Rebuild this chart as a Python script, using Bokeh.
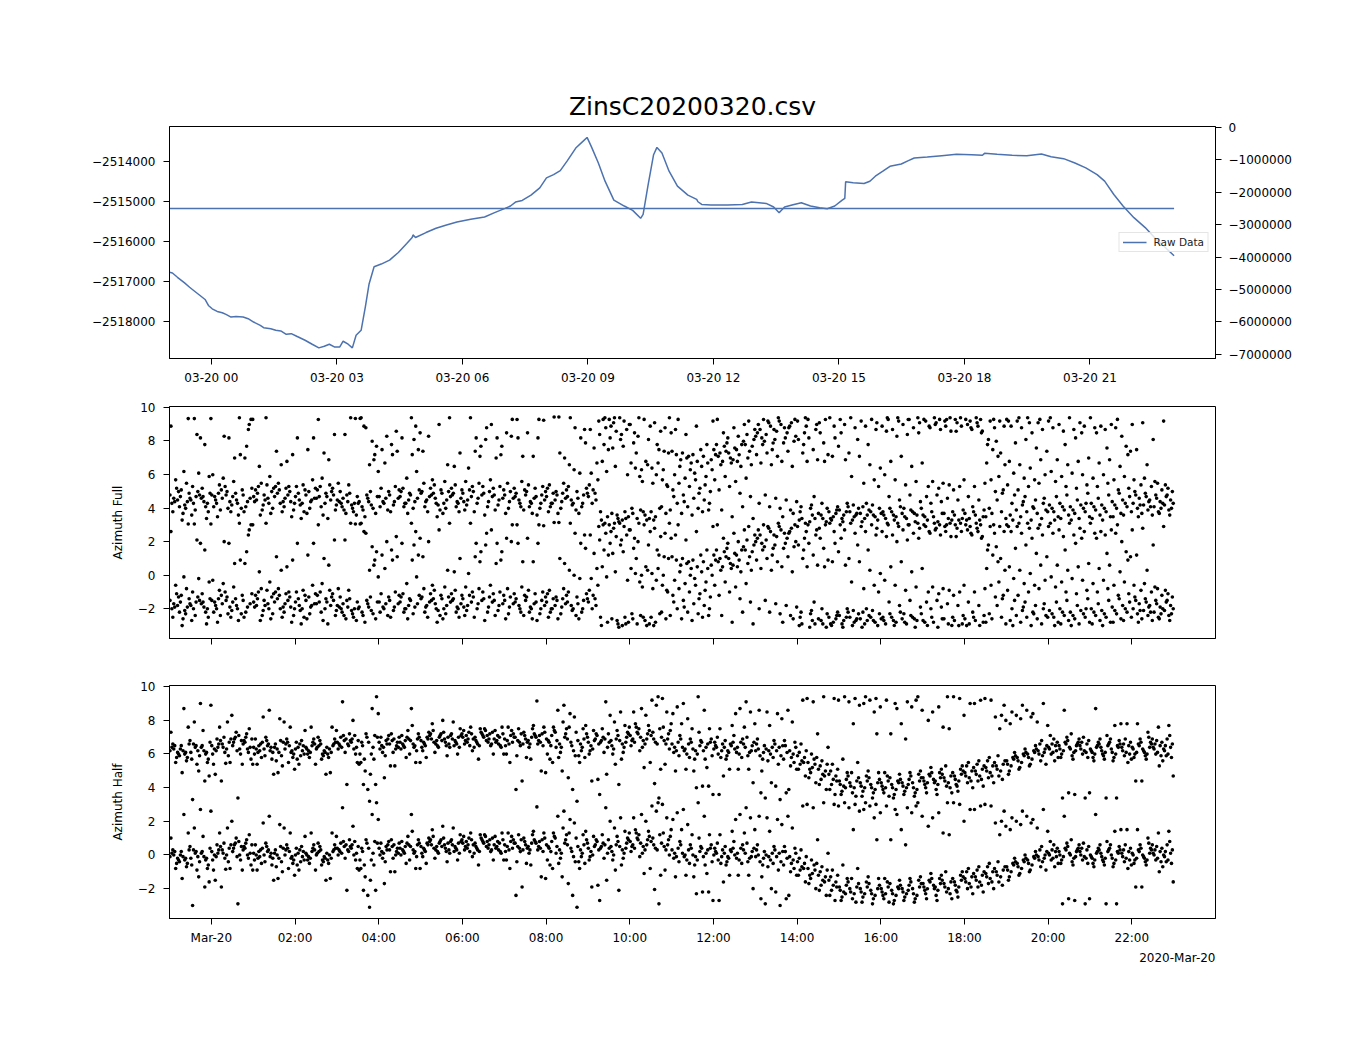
import math
import numpy as np
from bokeh.plotting import figure
from bokeh.layouts import column
from bokeh.models import Range1d, LinearAxis, FixedTicker, Title
from bokeh.embed import file_html
from bokeh.resources import INLINE

FONT = "DejaVu Sans"
TITLE = "ZinsC20200320.csv"
LINE_COLOR = "#4c72b0"

# ---- top panel: raw data trace (hours relative to 2020-03-20 00:00) ----
raw_hours = [-1.0, -0.93, -0.81, -0.64, -0.52, -0.40, -0.27, -0.15, -0.07, 0.02, 0.14, 0.26, 0.35, 0.47,
             0.59, 0.76, 0.88, 1.01, 1.17, 1.25, 1.42, 1.54, 1.66, 1.79, 1.91, 2.04, 2.24, 2.41, 2.57,
             2.70, 2.82, 2.94, 3.07, 3.15, 3.27, 3.37, 3.46, 3.58, 3.68, 3.77, 3.89, 4.06, 4.26, 4.47,
             4.67, 4.80, 4.82, 4.88, 5.13, 5.37, 5.62, 5.87, 6.20, 6.53, 6.77, 7.02, 7.15, 7.27, 7.43,
             7.64, 7.85, 8.01, 8.18, 8.34, 8.51, 8.71, 8.88, 8.98, 9.08, 9.25, 9.41, 9.62, 9.87, 10.07,
             10.26, 10.32, 10.44, 10.57, 10.65, 10.77, 10.94, 11.14, 11.39, 11.60, 11.63, 11.72, 11.94,
             12.34, 12.69, 12.91, 13.09, 13.26, 13.44, 13.57, 13.70, 13.88, 14.10, 14.32, 14.54, 14.72,
             14.90, 15.07, 15.14, 15.16, 15.34, 15.60, 15.74, 15.87, 16.05, 16.22, 16.49, 16.66, 16.80,
             17.11, 17.46, 17.81, 18.17, 18.43, 18.48, 18.78, 19.14, 19.49, 19.84, 20.07, 20.37, 20.64,
             20.90, 21.17, 21.35, 21.57, 21.79, 22.05, 22.32, 22.58, 22.80, 23.01]
raw_values = [-2516775, -2516792, -2516900, -2517042, -2517150, -2517250, -2517358, -2517458, -2517608,
              -2517692, -2517758, -2517792, -2517833, -2517900, -2517883, -2517900, -2517942, -2518025,
              -2518108, -2518167, -2518192, -2518233, -2518250, -2518333, -2518317, -2518383, -2518483,
              -2518583, -2518675, -2518633, -2518583, -2518650, -2518650, -2518508, -2518583, -2518675,
              -2518358, -2518233, -2517650, -2517067, -2516633, -2516567, -2516467, -2516275, -2516050,
              -2515900, -2515833, -2515900, -2515775, -2515667, -2515583, -2515508, -2515442, -2515383,
              -2515275, -2515167, -2515108, -2515008, -2514967, -2514833, -2514650, -2514400, -2514317,
              -2514217, -2513967, -2513650, -2513483, -2513383, -2513608, -2514025, -2514483, -2514958,
              -2515108, -2515217, -2515417, -2515317, -2514567, -2513817, -2513633, -2513775, -2514233,
              -2514608, -2514833, -2514942, -2515000, -2515067, -2515083, -2515083, -2515067, -2515008,
              -2515025, -2515042, -2515133, -2515275, -2515133, -2515083, -2515025, -2515108, -2515150,
              -2515175, -2515108, -2514967, -2514917, -2514500, -2514525, -2514542, -2514483, -2514358,
              -2514233, -2514108, -2514050, -2513967, -2513900, -2513875, -2513842, -2513808, -2513817,
              -2513833, -2513783, -2513808, -2513833, -2513842, -2513800, -2513867, -2513917, -2514025,
              -2514150, -2514317, -2514483, -2514817, -2515108, -2515400, -2515650, -2515942, -2516150,
              -2516358]
mean_value = -2515170

# ---- scatter panels: values in 15-minute bins starting 2020-03-19 23:00 ----
BIN_START = -1.0
BIN_W = 0.25
azimuth_full_bins = [
    [-1.5, -1.9, -2.2, -1.7, -1.3, -2.5, -1.8, -2.0, -1.1, 2.6, -0.6],
    [-1.6, -2.1, -1.4, -2.6, -1.9, -1.2, -2.3, -1.7, -0.1, 3.05, -3.0, -0.8],
    [-1.8, -2.4, -1.5, -2.0, -1.3, -2.7, -1.6, 1.9, 3.05, -0.2, -1.0, 2.1],
    [-1.7, -2.2, -1.4, -1.9, -2.5, -1.1, -2.9, 3.05, 1.5, -0.4, -1.6, -2.0],
    [-1.5, -2.0, -1.2, -1.8, -2.4, -1.6, -0.9, -2.2, -1.4, -0.3, -2.8],
    [-1.7, -1.3, -2.1, -1.5, -2.5, -1.0, -1.9, 2.0, 1.9, -0.5, -2.3],
    [-1.6, -2.0, -1.2, -1.8, -2.3, -1.4, 0.9, 0.7, 3.1, -0.7, -2.7],
    [-1.5, -1.9, -1.1, -2.2, -1.7, -2.5, 2.4, 3.0, 1.4, 3.0, 0.7, 2.7],
    [-1.6, -1.0, -2.1, -1.4, -2.4, -1.8, -0.8, -1.2, -2.7, -1.9, 0.2],
    [-1.5, -2.0, -1.1, -1.7, -2.3, -0.9, -1.3, 3.1, -2.6, -1.8, -0.4],
    [-1.6, -1.2, -2.2, -0.8, -1.9, -1.4, -2.5, 1.1, 0.3, -1.0, -2.0],
    [-1.7, -1.3, -2.0, -1.0, -2.4, -1.5, 0.9, 0.5, -2.8, -1.1, -1.9],
    [-1.6, -2.1, -1.2, -1.8, -2.5, -1.4, -0.9, 1.9, -2.0, -1.0, -2.9],
    [-1.5, -1.9, -1.1, -2.3, -1.7, -1.3, 1.9, 1.2, -0.6, -2.6, -1.8],
    [-1.7, -2.2, -1.4, -1.0, -2.0, -1.6, 1.0, 3.0, -2.7, -1.2, -0.5],
    [-1.6, -1.3, -2.1, -1.8, -2.4, -0.9, 2.1, 0.6, -1.5, -2.9, -1.1],
    [-1.8, -2.2, -1.5, -2.0, -2.6, -1.3, 2.1, -1.9, -2.4, -0.8, -1.7],
    [-1.9, -2.3, -1.6, -2.1, -2.7, 3.1, 3.05, -1.4, -2.0, -0.9, -2.5],
    [-2.0, -2.4, -1.7, -2.2, -1.5, 3.1, 2.5, 3.05, -2.8, -1.9, 2.6],
    [-1.9, -2.3, -1.6, -2.1, -2.6, 0.3, 0.6, -0.1, 1.7, 1.4, -1.3, 0.9],
    [-1.6, -2.0, -1.3, -1.9, -2.4, 1.2, 2.0, -1.1, -1.7, -2.2, 0.4],
    [-1.5, -1.9, -1.2, -2.1, -1.7, 0.9, 1.1, 1.5, 2.3, -2.5, -1.0],
    [-1.6, -2.0, -1.4, -2.2, -1.8, -1.1, -2.6, 1.9, -0.5, -1.3, -2.0],
    [-1.5, -1.9, -1.2, -2.3, -1.7, 3.1, 2.6, 2.2, 1.8, 1.2, 0.9, -0.1],
    [-1.4, -1.9, -1.1, -2.2, -1.6, -0.8, 2.0, 1.1, -2.5, -1.3, -1.8],
    [-1.5, -2.0, -1.2, -1.7, -2.4, -0.9, 2.7, -1.4, -2.1, -0.6, -2.8],
    [-1.4, -1.8, -1.1, -2.3, -1.6, -0.7, 3.1, -2.0, -1.3, -2.6, 0.3],
    [-1.5, -1.9, -1.2, -2.2, -1.7, -0.9, 1.0, 0.2, -2.5, -1.4, -2.0],
    [-1.4, -1.8, -1.0, -2.1, -1.6, -0.7, 3.1, -2.4, -1.2, -1.9, 0.1],
    [-1.3, -1.7, -1.0, -2.0, -1.5, 1.9, 1.4, 1.1, 0.8, -2.5, -0.8],
    [-1.4, -1.9, -1.1, -2.2, -1.6, 2.5, 2.7, 1.8, -0.6, -2.7, -1.3],
    [-1.5, -1.8, -1.2, -2.1, -1.7, 1.9, 1.4, 0.7, 0.9, -2.4, -1.0],
    [-1.5, -1.9, -1.1, -2.3, -1.7, -0.8, 3.0, 2.2, 2.0, -2.6, -1.3],
    [-1.6, -2.0, -1.2, -1.8, -2.4, 1.9, 0.8, 3.0, -0.7, -1.4, -2.2],
    [-1.5, -1.9, -1.1, -2.2, -1.7, -0.9, 0.8, 2.2, -2.6, -1.3, -2.0],
    [-1.6, -2.0, -1.3, -2.3, -1.8, 3.0, 2.95, 1.9, -1.0, -2.7, -1.5],
    [-1.6, -2.0, -1.3, -2.2, -1.8, -0.9, 3.14, -2.5, -1.4, -1.1, -2.0],
    [-1.5, -1.9, -1.2, -2.3, -1.7, 1.0, 0.7, 3.14, -0.8, -2.6, -1.4],
    [-1.6, -2.1, -1.3, -1.8, -2.4, 3.1, 2.5, 0.3, 0.0, -1.0, -2.0],
    [-1.7, -2.0, -1.4, -2.2, -1.1, 1.9, 1.6, -0.2, 2.4, -2.6, -1.5],
    [-1.6, -1.2, -0.6, -2.0, 0.4, -0.2, -1.8, 2.4, -1.4, -0.9, 1.3],
    [2.9, 3.0, -2.8, -3.0, 2.5, 2.1, 1.5, 1.2, 0.5, -0.1, -2.5, 3.1],
    [3.0, 2.8, -2.9, -2.6, 2.3, 1.9, 3.1, -3.1, 1.3, -2.7, 2.6, 0.2],
    [3.1, 2.9, -2.8, -3.0, 2.4, 1.8, -2.5, 2.7, 1.4, -0.3, 2.1, -2.9],
    [2.7, 2.2, 3.1, -2.6, -2.9, 0.4, 0.1, -0.4, 1.6, 2.0, -2.3, 1.0],
    [-2.4, -2.7, -2.9, -2.5, 0.3, 0.0, 0.5, 2.6, 3.0, 1.8, -0.7, -3.0],
    [-2.5, -2.8, -2.3, -3.0, 0.4, 0.1, -0.3, 2.3, 2.8, 1.2, -0.8, 1.5],
    [-2.2, -2.6, -2.4, 1.1, 1.0, -0.6, -0.9, 2.2, 2.5, 3.1, 0.0, -1.0],
    [1.1, 0.9, 0.6, -0.3, -0.8, -1.2, -2.0, -2.6, 2.4, 0.2, -1.6, 3.0],
    [1.0, 0.7, 0.4, -0.5, -1.0, -1.5, -2.2, -2.7, 2.1, 0.0, -1.9, 0.8],
    [0.9, 0.5, 0.2, -0.6, -1.1, -1.7, -2.3, -2.5, 2.6, 1.2, -0.2, -1.4],
    [0.8, 0.4, 0.0, -0.4, -1.3, -1.8, -2.4, 2.9, 1.5, 0.6, -0.9, -2.0],
    [1.2, 0.8, 0.5, 1.5, 0.3, -0.6, -1.2, 2.2, 3.0, -2.4, 0.9, 1.0],
    [1.4, 1.0, 0.6, 1.6, 0.4, -0.4, -1.0, 2.5, 1.9, -2.8, 1.1, 0.7],
    [1.3, 0.9, 1.7, 0.5, 1.5, -0.7, -1.4, 2.7, 2.0, -2.2, 1.2, 0.2],
    [1.5, 1.1, 1.8, 0.7, 1.4, -0.5, -1.6, 2.4, 2.9, -2.9, 2.1, 0.3],
    [2.0, 2.4, 1.7, 2.7, 1.5, 0.9, 0.4, -1.5, -2.0, 3.0, 2.2, 1.9],
    [2.1, 2.6, 1.8, 2.8, 1.6, 1.0, 0.3, -1.7, -2.2, 2.4, 2.9, 1.2],
    [2.3, 2.7, 1.9, 2.9, 1.6, 0.8, 0.5, -1.8, -2.3, 2.5, 3.1, -2.8],
    [2.2, 2.8, 2.0, 2.6, 1.7, 1.1, 0.2, -1.9, -2.4, 3.0, 2.5, -2.6],
    [2.9, -2.9, 2.6, -2.5, 2.2, 1.8, 1.0, 0.5, -2.2, 3.1, -3.0, 1.5],
    [3.0, -2.7, 2.7, -2.3, -2.9, 1.9, 1.2, 0.6, -2.1, 2.4, -3.1, -1.6],
    [-2.6, -2.9, -2.3, -2.7, 3.0, 2.8, 1.6, 0.9, -2.0, -3.1, 2.2, 0.5],
    [-2.5, -2.8, -2.2, -3.0, -2.6, 3.1, 2.6, 1.4, 0.8, -2.4, -2.9, 1.9],
    [-2.4, -2.7, -2.2, -2.9, -2.5, 3.0, 2.7, 1.0, -3.1, -2.0, 2.2, 0.6],
    [-2.5, -2.8, -2.3, -3.0, -2.6, 3.1, 2.5, 0.8, -2.1, 1.8, -0.4, -2.7],
    [-2.6, -2.9, -2.4, -2.2, -2.7, 2.9, 2.6, 0.3, -0.8, 1.5, -3.1, -2.0],
    [-2.5, -2.8, -2.3, -2.7, -3.0, 3.0, 2.4, 0.1, -0.6, -1.0, -2.1, 2.8],
    [-2.6, -2.9, -2.3, -2.7, 3.0, 2.6, 2.3, 0.5, -0.3, -1.6, -2.5, 3.1],
    [-2.5, -2.8, -2.2, -3.0, 2.9, 2.4, 2.0, 0.8, -0.6, -1.8, -2.7, 3.1],
    [-2.6, -2.9, -2.4, -2.8, 3.0, 2.7, 2.1, 0.2, -0.9, -1.5, -2.3, 3.0],
    [-2.5, -2.7, -2.3, -3.1, 2.8, 2.5, 3.1, 0.4, -0.7, -1.9, -2.6, 2.2],
    [-2.7, -3.0, -2.5, 2.9, 2.5, 3.0, -1.0, -0.7, -1.6, -2.0, -2.8, 2.6],
    [-2.8, -3.1, -2.6, 2.8, 2.4, 3.1, -1.1, -0.8, -1.5, -1.9, 2.7, 3.0],
    [-2.6, -2.9, -2.5, 3.0, 2.3, 2.9, -0.9, -1.2, -1.7, -3.0, 2.6, 3.1],
    [-2.7, -3.0, -2.4, 2.8, 2.6, 3.0, -1.0, -0.6, -1.8, -2.9, 2.3, 3.1],
    [-2.6, -2.9, -2.5, 2.7, 2.4, 3.0, 2.9, -1.0, -1.6, -2.2, -3.0, 2.5],
    [-2.7, -3.0, -2.4, 2.6, 2.3, 3.1, 3.0, -0.8, -1.8, -2.8, 2.8, 2.2],
    [-2.8, 2.9, 2.5, 1.8, 1.2, 0.4, -0.6, -1.3, -2.3, 3.0, 1.5, -2.6],
    [1.7, 1.0, 0.3, -0.4, -1.2, -1.8, -2.5, -2.9, 2.9, 2.6, 0.8, -1.4],
    [3.0, 2.6, 1.6, 0.5, -0.2, -0.9, -2.0, -2.4, -2.7, -1.5, 2.9, -3.0],
    [2.9, 2.5, 1.8, 0.3, -0.5, -1.2, -2.1, -2.5, -2.8, -1.6, 3.1, -1.9],
    [3.1, 2.2, 1.3, 0.1, -0.6, -1.0, -2.2, -2.6, -3.0, -1.8, 2.8, -2.3],
    [2.8, 2.4, 1.1, 0.6, -0.3, -0.8, -2.0, -2.5, -2.9, -2.4, 3.0, -1.7],
    [2.9, 2.5, 0.6, -0.1, -0.7, -2.1, -2.5, -2.8, -2.3, -1.6, 3.1, -3.0],
    [2.7, 2.3, 0.3, -0.4, -1.0, -2.0, -2.4, -2.7, -2.2, -1.5, -2.9, 1.5],
    [3.1, 2.4, 0.5, -0.2, -1.1, -2.2, -2.6, -2.9, -2.4, -1.8, -3.0, 1.9],
    [2.8, 2.6, 0.7, -0.3, -0.9, -2.1, -2.5, -2.8, -2.3, -1.4, 2.2, -2.0],
    [3.1, 2.5, 0.4, -0.5, -1.0, -2.0, -2.4, -2.7, -2.2, -1.7, -2.9, 2.2],
    [2.6, 2.4, 0.6, -0.3, -0.8, -2.1, -2.5, -2.8, -2.3, -1.5, -3.0, 1.3],
    [2.7, 2.5, 0.2, -0.6, -1.2, -1.9, -2.3, -2.6, -2.1, -1.4, -2.8, 3.0],
    [2.0, 1.4, 1.1, -0.4, -1.1, -1.8, -2.2, -2.5, -2.0, -1.6, -2.7, 0.9],
    [2.7, 1.2, -0.9, -1.3, -1.7, -2.0, -2.3, -2.6, -1.5, -2.1, -0.6, -2.8],
    [2.8, 0.3, -1.0, -1.4, -1.8, -2.1, -2.4, -2.7, -1.6, -2.2, -0.5, -1.9],
    [1.8, -0.8, -1.2, -1.5, -1.9, -2.2, -2.5, -2.0, -1.7, -2.3, -0.7, -2.6],
    [2.9, -1.1, -1.3, -1.6, -1.8, -2.1, -2.4, -2.0, -1.5, -2.3, -0.9, -2.7],
]
azimuth_half_bins = [
    [-0.1, 0.2, -0.4, 0.0, -0.3, 0.3, -0.2, 0.1, -0.5, 1.0, -0.8],
    [0.0, -0.3, 0.3, -0.1, -0.5, 0.2, -0.2, 0.5, 2.4, 1.3, -1.4, -0.7],
    [-0.2, 0.1, -0.4, 0.3, -0.1, -0.6, 0.2, 2.7, 1.6, -1.3, -3.0, -0.9],
    [0.1, -0.3, 0.4, -0.1, -0.6, 0.2, -0.2, 2.6, -1.9, -1.6, 1.1, -0.8],
    [0.2, -0.1, 0.5, 0.0, 0.3, -0.3, 0.6, -1.9, -1.5, 1.3, -0.9, 0.1],
    [0.3, 0.0, 0.6, -0.2, 0.4, 0.1, 1.6, 2.0, -0.85, -0.8, 0.7, -0.4],
    [0.2, -0.1, 0.5, 0.7, 0.0, 0.4, -2.9, -0.9, 1.0, -0.3, 0.6, 0.8],
    [0.3, 0.0, 0.6, 0.7, 0.1, 0.5, -0.2, -0.9, 0.9, -0.6, 0.4, 1.2],
    [0.1, -0.2, 0.4, 0.0, 0.3, -0.3, 0.2, 1.9, -0.9, -0.5, 0.6, -0.1],
    [0.0, 0.3, -0.2, 0.5, 0.1, -0.4, 2.3, -1.5, 0.2, -0.6, 0.7, -0.1],
    [0.1, -0.2, 0.4, 0.0, -0.4, 0.3, 1.8, 1.6, -1.4, -1.0, -0.7, 0.5],
    [0.0, 0.2, -0.3, 0.4, -0.1, 0.3, 1.3, -1.2, -0.8, -0.5, 0.6, -0.2],
    [0.0, 0.3, -0.3, 0.1, -0.1, 0.4, -0.4, 1.1, -0.9, 0.2, -0.6, 0.5],
    [0.1, -0.2, 0.3, -0.1, 0.4, 0.0, 1.3, -0.9, -0.5, 0.6, -0.3, 0.2],
    [0.0, 0.3, -0.2, 0.2, -0.4, 0.1, -0.6, -1.5, 0.5, -0.1, 0.7, -0.3],
    [0.1, -0.2, 0.4, 0.0, 0.3, -0.3, 1.3, 1.1, -1.4, 0.6, -0.5, 0.2],
    [0.4, 0.1, 0.6, 0.2, 0.5, 0.0, 2.8, -2.1, 0.7, -0.2, 0.3, 0.8],
    [0.3, 0.6, 0.1, 0.5, 0.8, 0.2, 1.7, -0.8, 0.4, -0.3, 0.9, 0.0],
    [0.5, 0.2, 0.7, -0.8, -1.3, -0.9, -2.1, -2.4, 0.4, 0.9, -0.3, -0.6],
    [0.4, 0.1, 0.7, -0.3, -2.1, -3.1, -0.6, 2.1, 2.4, 3.1, -1.5, 0.8],
    [0.4, 0.1, 0.6, 0.2, 0.5, 0.0, -1.7, 0.8, -0.2, 0.3, 0.7, -0.4],
    [0.3, 0.6, 0.1, 0.5, 0.2, -1.0, -1.0, 0.7, -0.2, 0.4, 0.9, 0.0],
    [0.4, 0.1, 0.6, 0.3, 0.7, 0.0, 0.5, -0.3, 0.2, 1.1, 0.8, -0.5],
    [0.5, 0.2, 0.7, 0.3, 0.6, 2.4, -0.8, -0.8, 0.1, 0.9, 1.4, -0.1],
    [0.5, 0.2, 0.8, 0.4, 0.6, 0.1, -0.5, 0.9, 0.3, 1.0, -0.1, 0.7],
    [0.6, 0.3, 0.8, 0.4, 0.1, 1.5, 0.5, 0.9, -0.2, 0.7, 1.1, 0.2],
    [0.5, 0.2, 0.8, 0.6, 0.3, 1.7, -0.4, 0.9, 0.4, 0.1, 1.0, 0.7],
    [0.6, 0.3, 0.8, 0.5, 0.1, 1.6, -0.3, 0.9, 0.4, 1.2, 0.2, 0.7],
    [0.7, 0.4, 0.9, 0.5, 0.2, 1.1, 0.6, -0.1, 0.8, 1.3, 0.3, 1.0],
    [0.6, 0.3, 0.9, 0.5, 1.2, 0.1, -0.6, 0.8, 0.4, 1.0, 0.7, 0.2],
    [0.7, 0.4, 1.0, 0.5, 0.2, 1.2, 0.6, -0.3, 0.8, 0.3, 1.1, 0.9],
    [0.6, 0.3, 0.9, 0.5, 0.1, 1.1, 0.7, -0.3, 0.8, 1.3, 0.4, 0.2],
    [0.6, 0.3, 0.9, 0.5, 1.1, 0.2, -0.8, 0.7, 1.3, 0.4, -0.3, 0.8],
    [0.7, 0.4, 1.0, 0.5, -1.9, -2.4, 0.2, 0.8, 1.2, 0.3, -0.4, 0.9],
    [0.6, 0.3, 0.9, 0.5, 1.2, -0.5, -0.6, 0.8, 0.1, 1.4, 0.4, 0.7],
    [0.7, 0.4, 1.0, 0.5, 0.2, 2.85, -1.3, -1.4, 0.8, 1.3, 0.3, 0.9],
    [0.6, 0.2, 1.0, 0.4, 1.3, -0.3, 0.8, 0.1, -0.6, 1.1, 0.5, -0.8],
    [0.5, 0.1, 0.9, 0.3, 2.6, 2.3, -1.3, 1.2, -0.2, 0.7, -0.5, 1.6],
    [0.6, 0.2, 1.0, 2.1, 1.9, -1.7, -2.4, -3.1, 0.4, -0.4, 1.3, -0.1],
    [0.5, 0.1, 0.9, 0.3, -0.5, -0.4, 1.2, 0.7, -0.1, 1.4, -0.8, 0.6],
    [0.4, 0.0, 0.8, 0.2, 0.6, -0.3, 1.1, -1.8, -1.9, 0.9, -0.1, 0.5],
    [0.3, 0.7, 0.1, 0.5, 2.8, -2.7, -0.2, 0.9, 1.2, -1.5, 0.4, 0.6],
    [0.4, 0.0, 0.8, 0.2, 0.6, 2.0, 1.6, -2.1, -0.3, 1.1, 0.5, -0.9],
    [0.5, 0.1, 0.9, 0.3, 0.7, 2.2, 1.4, 1.3, -0.2, 1.0, -0.6, 0.4],
    [0.8, 0.4, 1.2, 0.6, 1.0, 0.2, 1.5, -0.1, 2.2, 0.9, 0.5, 1.3],
    [0.7, 0.3, 1.1, 0.5, 0.9, 2.4, 2.0, -0.8, -1.1, 1.4, 0.1, 0.6],
    [0.8, 0.4, 1.2, 0.6, 3.1, 2.9, 2.6, -1.2, -2.05, -2.9, 1.0, 0.3],
    [0.7, 0.3, 1.1, 0.5, 0.9, 3.0, 2.2, 1.5, -0.9, 0.0, 1.3, 0.6],
    [0.3, -0.1, 0.6, 0.1, -0.4, 2.1, 2.5, 1.5, -1.3, 0.8, -0.2, 0.4],
    [0.1, -0.3, 0.4, 0.0, -0.5, 2.7, 1.8, 1.2, -1.2, 0.6, -0.1, 0.3],
    [0.0, -0.3, 0.4, -0.1, 0.2, -1.3, 3.1, -2.2, -2.3, 0.5, -0.6, 1.0],
    [-0.1, 0.3, -0.4, 0.1, 0.4, 2.3, -2.2, -2.7, -1.1, 0.6, -0.6, 1.2],
    [0.0, -0.3, 0.3, 0.1, -0.5, 0.4, -2.7, -1.6, 0.7, -0.1, 0.2, 1.2],
    [0.1, -0.2, 0.4, -0.4, 0.2, 0.5, -1.2, 0.8, -0.1, 1.4, -0.6, 0.3],
    [0.0, -0.3, 0.3, 0.1, -0.5, 2.1, 2.4, 1.3, -1.2, 0.6, -0.2, 0.4],
    [0.1, -0.2, 0.4, -0.4, 0.2, 2.8, 2.2, 1.5, -1.2, -2.0, 0.7, -0.1],
    [-0.1, -0.4, 0.2, 0.0, -0.6, 0.3, -2.6, -2.9, 2.3, -0.2, 0.6, -1.3],
    [0.0, -0.3, 0.3, -0.1, -0.5, 2.2, -2.0, -2.2, 1.4, 0.5, -0.7, 0.1],
    [-0.1, -0.4, 0.2, 0.1, -0.6, 2.1, 1.8, -2.6, -3.0, 0.5, -0.9, 0.2],
    [-0.2, -0.5, 0.1, -0.1, -0.8, 2.3, 1.6, -1.2, -1.0, 0.4, -2.4, -0.3],
    [-0.4, -0.7, -0.1, -0.9, -0.5, -1.2, 2.9, 3.0, 0.3, -1.6, -0.2, -0.8],
    [-0.8, -1.1, -0.5, -1.4, -0.9, -1.7, 2.8, 0.9, -0.3, -2.0, -1.2, -0.6],
    [-1.2, -1.5, -0.9, -1.8, -1.3, -2.1, 3.1, 0.1, -0.7, -2.4, -1.0, -1.6],
    [-1.5, -1.8, -1.2, -2.1, -1.6, -2.4, 3.0, 2.9, -0.9, -1.9, -1.3, -2.7],
    [-1.9, -2.2, -1.6, -2.5, -1.8, -2.1, 3.1, 2.8, -0.6, -1.4, -2.7, -2.3],
    [-2.0, -2.3, -1.7, -2.6, -1.9, -2.2, 3.0, 2.6, 1.5, -0.8, -1.4, -2.8],
    [-2.0, -2.3, -1.7, -2.5, -1.9, -2.2, 3.1, 2.9, 2.7, -1.3, -2.8, -1.6],
    [-2.1, -2.4, -1.8, -2.6, -2.0, -2.3, 3.0, 2.5, 2.2, -1.4, -2.9, 0.9],
    [-2.0, -2.3, -1.7, -2.6, -1.9, -2.2, 2.9, 0.9, -1.4, -2.8, -2.4, -1.6],
    [-2.1, -2.4, -1.8, -2.7, -2.0, -2.3, 2.4, 1.5, 2.7, -1.5, -2.9, -1.9],
    [-2.0, -2.3, -1.6, -2.5, -1.8, -2.2, 2.8, 2.5, 0.6, -1.4, -2.7, -2.1],
    [-2.0, -2.4, -1.7, -2.6, -1.9, -2.3, 3.1, 2.3, 2.9, -1.3, -2.8, -1.5],
    [-1.7, -2.0, -1.4, -2.3, -1.6, -1.9, 1.7, 2.2, -2.6, -1.1, -2.1, -1.5],
    [-1.8, -2.1, -1.5, -2.4, -1.7, -2.0, 2.5, 1.3, -2.7, -1.2, -1.9, -1.4],
    [-1.7, -2.0, -1.4, -2.2, -1.6, -1.9, 1.2, 3.1, 3.1, -2.6, -1.0, -2.3],
    [-1.6, -1.9, -1.3, -2.2, -1.5, -1.8, 3.0, 2.0, -2.5, -1.0, -2.1, -1.2],
    [-1.4, -1.7, -1.1, -2.0, -1.3, -1.6, 2.7, 2.7, -0.8, -2.3, -1.0, -1.9],
    [-1.3, -1.6, -1.0, -1.9, -1.2, -1.5, 2.9, 3.0, -0.7, -2.2, -0.9, -1.8],
    [-1.1, -1.4, -0.8, -1.7, -1.0, -1.3, 2.9, 1.9, -0.5, -2.0, -0.7, -1.6],
    [-1.0, -1.3, -0.7, -1.6, -0.9, -1.2, 2.0, 1.7, 1.2, 2.6, -0.4, -1.8],
    [-0.7, -1.0, -0.4, -1.3, -0.6, -0.9, 2.2, 2.0, 1.5, -0.2, -1.5, -0.5],
    [-0.5, -0.8, -0.2, -1.1, -0.4, -0.7, 2.6, 2.3, 1.8, 0.0, -1.2, -0.3],
    [-0.3, -0.6, 0.0, -0.9, -0.2, -0.5, 2.1, 1.6, 1.9, 0.2, -1.0, -0.1],
    [-0.1, -0.4, 0.2, -0.7, 0.0, -0.3, 2.7, 1.4, 0.5, -0.9, 0.3, -0.2],
    [0.1, -0.2, 0.4, -0.3, 0.2, 0.0, 0.6, -0.5, 0.3, -0.1, 0.8, -0.7],
    [0.2, -0.1, 0.5, -0.3, 0.3, 0.0, 2.3, -2.6, -2.9, 0.7, -0.5, 0.4],
    [0.1, -0.2, 0.4, -0.4, 0.2, 0.0, -2.7, 0.6, -0.6, 0.3, 0.9, -0.1],
    [0.2, -0.1, 0.5, -0.3, 0.3, 0.0, -2.9, -2.6, 0.7, -0.5, 0.4, -0.2],
    [0.0, -0.3, 0.3, -0.5, 0.2, -0.1, 2.4, 0.6, -0.7, 0.4, -0.2, 0.1],
    [0.1, -0.2, 0.4, -0.4, 0.2, -0.1, -2.9, 0.6, -0.6, 0.3, -0.3, 0.8],
    [0.0, -0.3, 0.3, -0.5, 0.1, -0.2, -2.9, 1.5, 1.4, 0.5, -0.7, 0.2],
    [0.1, -0.2, 0.4, -0.4, 0.2, -0.1, 1.5, -0.6, 0.6, -0.3, 0.3, -0.8],
    [0.1, -0.2, 0.4, -0.3, 0.2, 0.0, 1.5, -1.9, -1.9, 0.6, -0.5, 0.3],
    [0.0, -0.3, 0.3, -0.4, 0.1, -0.1, 1.0, 0.6, -0.6, 0.4, -0.2, 0.7],
    [0.1, -0.2, 0.4, -0.3, 0.2, 0.0, 1.3, -0.7, 0.5, -0.4, 0.3, -1.0],
    [0.0, -0.3, 0.3, -0.4, 0.1, -0.1, 1.4, -1.6, 0.6, -0.5, 0.2, 0.8],
]

# ---- ticks and labels ----
top_x_ticks = [0, 3, 6, 9, 12, 15, 18, 21]
top_x_labels = ["03-20 00", "03-20 03", "03-20 06", "03-20 09", "03-20 12", "03-20 15", "03-20 18", "03-20 21"]
left_ticks = [-2518000, -2517000, -2516000, -2515000, -2514000]
right_ticks = [0, -1000000, -2000000, -3000000, -4000000, -5000000, -6000000, -7000000]
az_ticks = [-2, 0, 2, 4, 6, 8, 10]
bottom_x_ticks = [0, 2, 4, 6, 8, 10, 12, 14, 16, 18, 20, 22]
bottom_x_labels = ["Mar-20", "02:00", "04:00", "06:00", "08:00", "10:00", "12:00", "14:00", "16:00",
                   "18:00", "20:00", "22:00"]
offset_text = "2020-Mar-20"


def minus_labels(ticks):
    return {t: str(t).replace("-", "\u2212") for t in ticks}


def expand(bins):
    xs, ys = [], []
    for i, vals in enumerate(bins):
        t0 = BIN_START + i * BIN_W
        n = len(vals)
        step = 5 if math.gcd(5, n) == 1 else 1
        for j, v in enumerate(vals):
            slot = (j * step) % n
            xs.append(t0 + (slot + 0.5) * BIN_W / n)
            ys.append(v)
    xs = np.array(xs)
    ys = np.array(ys)
    # the azimuth is displayed twice: as is and shifted by one full turn
    return np.concatenate([xs, xs]), np.concatenate([ys, ys + 2 * np.pi])


TICK_FONT = "12px"
LEFT = 169
RIGHT = 125
FRAME_W = 1046


def style_axis(ax, standoff=6):
    ax.axis_line_color = "black"
    ax.axis_line_width = 1
    ax.major_tick_line_color = "black"
    ax.major_tick_line_width = 1
    ax.major_tick_in = 0
    ax.major_tick_out = 6
    ax.minor_tick_line_color = None
    ax.major_label_text_font = FONT
    ax.major_label_text_font_size = TICK_FONT
    ax.major_label_text_color = "black"
    ax.major_label_standoff = standoff


def style_fig(p):
    p.outline_line_color = "black"
    p.outline_line_width = 1
    p.outline_line_alpha = 1
    p.xgrid.grid_line_color = None
    p.ygrid.grid_line_color = None
    p.background_fill_color = "white"
    p.border_fill_color = "white"


x_range = Range1d(-1.0, 24.0)
az_range_lo, az_range_hi = -3.770, 10.053

# ---------------- top panel ----------------
p1 = figure(frame_width=FRAME_W, frame_height=232, x_range=x_range,
            y_range=Range1d(-2518942, -2513108), output_backend="svg", toolbar_location=None,
            min_border_left=LEFT, min_border_right=RIGHT, min_border_top=126, min_border_bottom=40,
            title=TITLE)
style_fig(p1)
p1.title.align = "center"
p1.title.text_font = FONT
p1.title.text_font_size = "25px"
p1.title.text_font_style = "normal"
p1.title.text_color = "black"
p1.title.standoff = 12

p1.line(raw_hours, raw_values, line_color=LINE_COLOR, line_width=1.5, legend_label="Raw Data")
p1.line([raw_hours[0], raw_hours[-1]], [mean_value, mean_value], line_color=LINE_COLOR, line_width=1.4)

p1.xaxis.ticker = FixedTicker(ticks=top_x_ticks)
p1.xaxis.major_label_overrides = dict(zip(top_x_ticks, top_x_labels))
p1.yaxis.ticker = FixedTicker(ticks=left_ticks)
p1.yaxis.major_label_overrides = minus_labels(left_ticks)
for ax in p1.xaxis:
    style_axis(ax, 6)
for ax in p1.yaxis:
    style_axis(ax, 8)

p1.extra_y_ranges = {"twin": Range1d(-7133000, 30700)}
rax = LinearAxis(y_range_name="twin", ticker=FixedTicker(ticks=right_ticks),
                 major_label_overrides=minus_labels(right_ticks))
style_axis(rax, 7)
p1.add_layout(rax, "right")

lg = p1.legend[0]
lg.location = "center_right"
lg.margin = 7
lg.padding = 3
lg.spacing = 0
lg.label_text_font = FONT
lg.label_text_font_size = "10.5px"
lg.label_text_color = "#222222"
lg.glyph_width = 24
lg.glyph_height = 12
lg.label_height = 12
lg.label_standoff = 7
lg.border_line_color = "#cccccc"
lg.border_line_width = 1
lg.background_fill_alpha = 0.8

# ---------------- middle panel ----------------
xf, yf = expand(azimuth_full_bins)
p2 = figure(frame_width=FRAME_W, frame_height=232, x_range=x_range,
            y_range=Range1d(az_range_lo, az_range_hi), output_backend="svg", toolbar_location=None,
            min_border_left=LEFT, min_border_right=RIGHT, min_border_top=8, min_border_bottom=30)
style_fig(p2)
p2.scatter(x=xf, y=yf, size=3.6, fill_color="black", line_color=None)
p2.xaxis.ticker = FixedTicker(ticks=bottom_x_ticks)
p2.xaxis.major_label_overrides = {t: "" for t in bottom_x_ticks}
p2.yaxis.ticker = FixedTicker(ticks=az_ticks)
p2.yaxis.major_label_overrides = minus_labels(az_ticks)
p2.yaxis.axis_label = "Azimuth Full"
for ax in p2.axis:
    style_axis(ax, 8)
p2.yaxis.axis_label_text_font = FONT
p2.yaxis.axis_label_text_font_size = TICK_FONT
p2.yaxis.axis_label_text_font_style = "normal"
p2.yaxis.axis_label_text_color = "black"
p2.yaxis.axis_label_standoff = 10

# ---------------- bottom panel ----------------
xh, yh = expand(azimuth_half_bins)
p3 = figure(frame_width=FRAME_W, frame_height=233, x_range=x_range,
            y_range=Range1d(az_range_lo, az_range_hi), output_backend="svg", toolbar_location=None,
            min_border_left=LEFT, min_border_right=RIGHT, min_border_top=17, min_border_bottom=60)
style_fig(p3)
p3.scatter(x=xh, y=yh, size=3.6, fill_color="black", line_color=None)
p3.xaxis.ticker = FixedTicker(ticks=bottom_x_ticks)
p3.xaxis.major_label_overrides = dict(zip(bottom_x_ticks, bottom_x_labels))
p3.yaxis.ticker = FixedTicker(ticks=az_ticks)
p3.yaxis.major_label_overrides = minus_labels(az_ticks)
p3.yaxis.axis_label = "Azimuth Half"
for ax in p3.xaxis:
    style_axis(ax, 6)
for ax in p3.yaxis:
    style_axis(ax, 8)
p3.yaxis.axis_label_text_font = FONT
p3.yaxis.axis_label_text_font_size = TICK_FONT
p3.yaxis.axis_label_text_font_style = "normal"
p3.yaxis.axis_label_text_color = "black"
p3.yaxis.axis_label_standoff = 10

p3.add_layout(Title(text=offset_text, align="right", text_font=FONT, text_font_size=TICK_FONT,
                    text_font_style="normal", text_color="black", standoff=3), "below")

layout = column(p1, p2, p3)
open("out.html", "w").write(file_html(layout, INLINE, title=TITLE))
